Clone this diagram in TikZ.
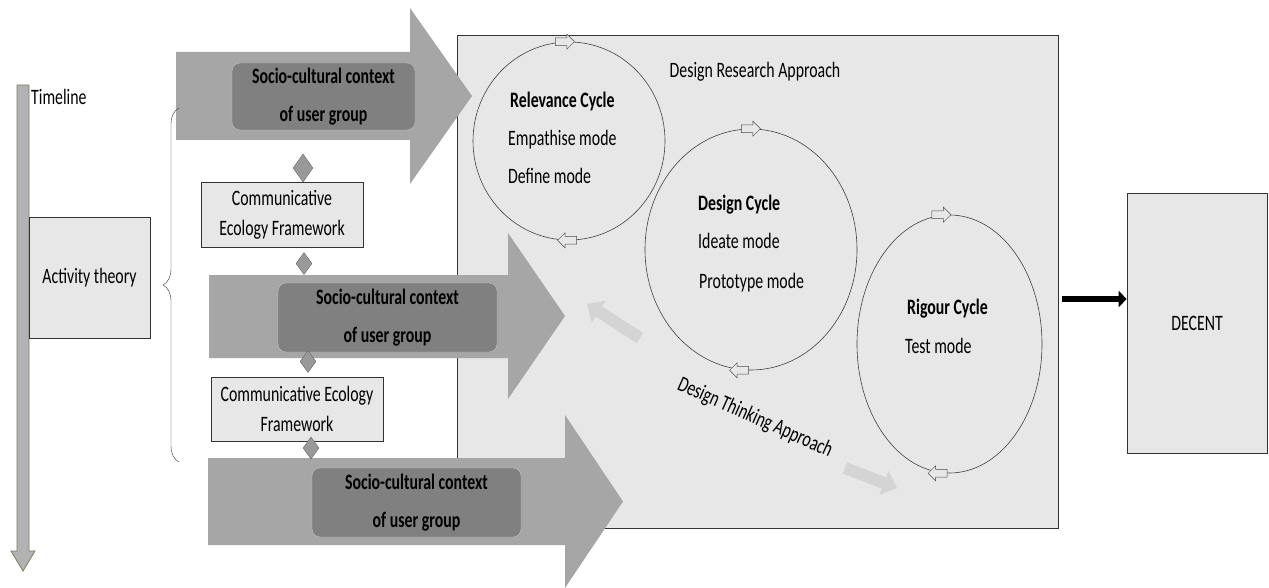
\documentclass[tikz,border=0pt]{standalone}
\usepackage{fontspec}
\setmainfont{Carlito}[FakeStretch=0.72]
\usetikzlibrary{positioning,calc}
\usetikzlibrary{arrows.meta}
\usetikzlibrary{shapes.geometric,shapes.arrows}
\usetikzlibrary{decorations.pathreplacing}

\definecolor{boxgray}{RGB}{231,231,231}
\definecolor{ctxgray}{RGB}{166,166,166}
\definecolor{innergray}{RGB}{128,128,128}
\definecolor{fadegray}{RGB}{212,212,212}
\definecolor{timefill}{RGB}{178,178,178}
\definecolor{timeedge}{RGB}{125,125,98}

\begin{document}
\begin{tikzpicture}[x=1pt,y=-1pt,
         every node/.style = {font=\fontsize{22}{26}\selectfont},
         plainbox/.style = {draw=black!80, line width=0.7pt, fill=boxgray,
            inner sep=0pt, align=center},
         cefbox/.style = {plainbox, font=\fontsize{22}{30}\selectfont},
         ctxarrow/.style = {fill=ctxgray},
         ctxbox/.style = {rounded corners=8pt, fill=innergray, draw=black!25,
            inner sep=0pt, align=center,
            font=\fontsize{22}{38}\selectfont\bfseries},
         linkdiamond/.style = {diamond, fill=black!40, draw=black!60,
            inner sep=0pt, minimum width=16pt, minimum height=22pt},
         cyclering/.style = {ellipse, draw=black!75, line width=0.6pt},
         cycletxt/.style = {anchor=west, inner sep=0pt, text height=15pt,
            text depth=4pt},
         cycletitle/.style = {cycletxt, font=\fontsize{22}{26}\selectfont\bfseries},
         cyclearrow/.style = {single arrow, draw=black!70, fill=boxgray,
            inner xsep=0pt, inner ysep=3.5pt, minimum width=15pt,
            minimum height=19pt, single arrow head extend=3.5pt},
         hintarrow/.style = {fadegray, line width=12pt,
            -{Triangle[length=14pt,width=25pt]}}
]
   \useasboundingbox (0,0) rectangle (1269,588);

   % design research approach
   \node[plainbox, minimum width=601pt, minimum height=493pt] (dra) at (757.5,281.5) {};
   \node (draname) at (755,72) {Design Research Approach};

   % design thinking hints
   \coordinate (backtail) at (640,338);
   \coordinate (backtip)  at (587,304);
   \coordinate (fwdtail)  at (845,468);
   \coordinate (fwdtip)   at (897,488);
   \draw[hintarrow] (backtail) -- (backtip);
   \draw[hintarrow] (fwdtail) -- (fwdtip);
   \node[rotate=-24] (dta) at (755,418) {Design Thinking Approach};

   % cycles
   \node[cyclering, minimum width=192pt, minimum height=198pt] (rel) at (569,141) {};
   \node[cyclering, minimum width=212pt, minimum height=241pt] (des) at (751,249.5) {};
   \node[cyclering, minimum width=185pt, minimum height=258pt] (rig) at (949.5,344) {};

   \node[cyclearrow] at ([xshift=-6pt]rel.north) {};
   \node[cyclearrow, shape border rotate=180] at (rel.south) {};
   \node[cyclearrow] at ([xshift=-2pt]des.north) {};
   \node[cyclearrow, shape border rotate=180] at ([xshift=-10pt]des.south) {};
   \node[cyclearrow] at ([xshift=-10pt]rig.north) {};
   \node[cyclearrow, shape border rotate=180] at ([xshift=-10pt]rig.south) {};

   \node[cycletitle] (reltitle) at (510,102) {Relevance Cycle};
   \node[cycletxt]   (relemp)   at (508,140) {Empathise mode};
   \node[cycletxt]   (reldef)   at (508,178) {Define mode};

   \node[cycletitle] (destitle) at (698,205) {Design Cycle};
   \node[cycletxt]   (desidea)  at (698,243) {Ideate mode};
   \node[cycletxt]   (desproto) at (699,283) {Prototype mode};

   \node[cycletitle] (rigtitle) at (907,309) {Rigour Cycle};
   \node[cycletxt]   (rigtest)  at (905,348) {Test mode};

   % socio-cultural context arrows
   \fill[ctxarrow] (176,52) -- (410,52) -- (410,8) -- (472,96) -- (410,184)
      -- (410,140) -- (176,140) -- cycle;
   \fill[ctxarrow] (209,275) -- (508,275) -- (508,233) -- (565,316) -- (508,399)
      -- (508,358) -- (209,358) -- cycle;
   \fill[ctxarrow] (208,458) -- (565,458) -- (565,415) -- (623,501.5) -- (565,588)
      -- (565,545) -- (208,545) -- cycle;

   \node[ctxbox, minimum width=183pt, minimum height=67pt] (ctx1) at (323.5,96.5)
      {Socio-cultural context\\of user group};
   \node[ctxbox, minimum width=219pt, minimum height=69pt] (ctx2) at (387.5,317.5)
      {Socio-cultural context\\of user group};
   \node[ctxbox, minimum width=209pt, minimum height=69pt] (ctx3) at (416.5,502.5)
      {Socio-cultural context\\of user group};

   % communicative ecology
   \node[cefbox, minimum width=162pt, minimum height=65pt] (cef1) at (282,214.5)
      {Communicative\\Ecology Framework};
   \node[cefbox, minimum width=172pt, minimum height=64pt] (cef2) at (297,409)
      {Communicative Ecology\\Framework};

   \node[linkdiamond, minimum width=20pt, minimum height=28pt] (link1) at (303,168) {};
   \node[linkdiamond] (link2) at (304,263.5) {};
   \node[linkdiamond] (link3) at (308,361.5) {};
   \node[linkdiamond] (link4) at (311,448) {};

   % timeline
   \filldraw[fill=timefill, draw=timeedge, line width=0.8pt] (17,85) -- (29,85)
      -- (29,551) -- (35,551) -- (23,571) -- (11,551) -- (17,551) -- cycle;
   \node[anchor=west, inner sep=0pt] (timeline) at (31,97) {Timeline};
   \node[plainbox, minimum width=121pt, minimum height=121pt] (act) at (89.5,277.5)
      {Activity theory};

   \draw[draw=black!80, decorate, decoration={brace, amplitude=16pt}]
      (179,462) -- (179,108);

   % outcome
   \node[plainbox, minimum width=140pt, minimum height=260pt] (decent) at (1197,323) {DECENT};
   \coordinate (out) at (1062,299);
   \draw[line width=6pt, -{Triangle[length=8pt,width=16pt]}] (out) -- (out -| decent.west);

\end{tikzpicture}
\end{document}
